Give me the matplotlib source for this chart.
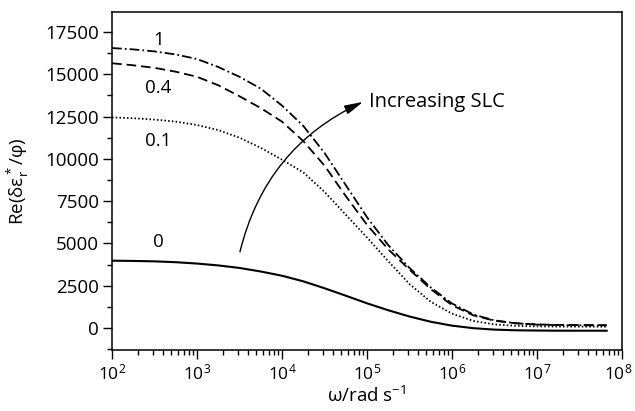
import matplotlib
matplotlib.use("Agg")
import matplotlib.pyplot as plt
from matplotlib.ticker import MultipleLocator, LogLocator, NullFormatter, FixedLocator
from matplotlib.transforms import ScaledTranslation

plt.rcParams['font.family'] = ['Open Sans', 'DejaVu Sans']
plt.rcParams['mathtext.fontset'] = 'custom'
plt.rcParams['mathtext.rm'] = 'Open Sans'
plt.rcParams['mathtext.it'] = 'Open Sans:italic'
plt.rcParams['lines.scale_dashes'] = False

# log10(omega) sample positions
log_omega = [2.0, 2.25, 2.5, 2.75, 3.0, 3.25, 3.5, 3.75, 4.0, 4.25, 4.5,
             4.75, 5.0, 5.25, 5.5, 5.75, 6.0, 6.25, 6.5, 6.75, 7.0, 7.25,
             7.5, 7.82]
omega = [10 ** v for v in log_omega]

slc_0 = [3980, 3965, 3940, 3890, 3810, 3700, 3550, 3340, 3090, 2760, 2350,
         1910, 1460, 1050, 680, 370, 140, -10, -95, -135, -150, -158,
         -160, -160]
slc_01 = [12450, 12400, 12320, 12200, 12000, 11700, 11250, 10650, 9950, 9200, 8050,
          6700, 5350, 3950, 2600, 1550, 850, 420, 210, 130, 95, 85,
          80, 80]
slc_04 = [15650, 15530, 15380, 15150, 14850, 14350, 13700, 13000, 12200, 11050, 9600,
          7800, 6100, 4650, 3450, 2300, 1350, 750, 430, 280, 210, 185,
          175, 170]
slc_1 = [16550, 16470, 16350, 16170, 15900, 15430, 14850, 14150, 13150, 11950, 10350,
         8450, 6550, 4900, 3550, 2400, 1450, 800, 450, 280, 200, 170,
         160, 150]

x_ticks = [1e2, 1e3, 1e4, 1e5, 1e6, 1e7, 1e8]

curve_labels = ['0', '0.1', '0.4', '1']
label_x = 3.5e2
label_y = [5100, 11050, 14200, 17030]

arrow_start = (3.2e3, 4500)
arrow_end = (8.97e4, 13365)
arrow_text = 'Increasing SLC'
arrow_text_pos = (1.07e5, 13365)

fs = 13.5

fig = plt.figure(figsize=(6.35, 4.11), dpi=100)
ax = fig.add_axes([112 / 635, (411 - 350) / 411, (622 - 112) / 635, (350 - 12) / 411])

lw = 1.3
ax.plot(omega, slc_0, color='black', lw=1.5, linestyle='-')
ax.plot(omega, slc_01, color='black', lw=lw, linestyle=(0, (1.1, 1.6)))
ax.plot(omega, slc_04, color='black', lw=lw, linestyle=(0, (7, 3.5)))
ax.plot(omega, slc_1, color='black', lw=lw, linestyle=(0, (7, 2.2, 1.3, 2.2)))

for t, y in zip(curve_labels, label_y):
    ax.text(label_x, y, t, fontsize=fs, ha='center', va='center')

ax.annotate('', xy=arrow_end, xytext=arrow_start,
            arrowprops=dict(arrowstyle='-|>,head_length=0.8,head_width=0.2',
                            connectionstyle='arc3,rad=-0.24', lw=1.0,
                            color='black', shrinkA=0, shrinkB=0,
                            mutation_scale=14))
ax.text(arrow_text_pos[0], arrow_text_pos[1], arrow_text, fontsize=14.5,
        ha='left', va='center')

ax.set_xscale('log')
ax.set_xlim(1e2, 1e8)
ax.set_ylim(-1300, 18680)
ax.yaxis.set_major_locator(MultipleLocator(2500))
ax.yaxis.set_minor_locator(MultipleLocator(1250))
ax.xaxis.set_major_locator(FixedLocator(x_ticks))
ax.xaxis.set_minor_locator(LogLocator(base=10, subs=range(2, 10), numticks=100))
ax.xaxis.set_minor_formatter(NullFormatter())

ax.tick_params(which='both', direction='out', top=False, right=False, width=1.0)
ax.tick_params(axis='y', labelsize=fs, pad=3)
ax.tick_params(axis='x', labelsize=12.5, pad=3)
ax.tick_params(which='major', length=6.5)
ax.tick_params(which='minor', length=3.8)
for s in ax.spines.values():
    s.set_linewidth(1.1)

ax.set_xlabel('ω/rad s$\\mathregular{^{−1}}$', fontsize=fs, labelpad=2)
ax.set_ylabel('Re(δ$\\mathregular{ε^*_r}$/φ)', fontsize=fs, labelpad=10)

# nudge the last x tick label slightly left so it stays inside the canvas
last = ax.xaxis.get_major_ticks()[len(x_ticks) - 1].label1
last.set_transform(last.get_transform() + ScaledTranslation(-3 / 72, 0, fig.dpi_scale_trans))

fig.savefig('out.png', dpi=100)
